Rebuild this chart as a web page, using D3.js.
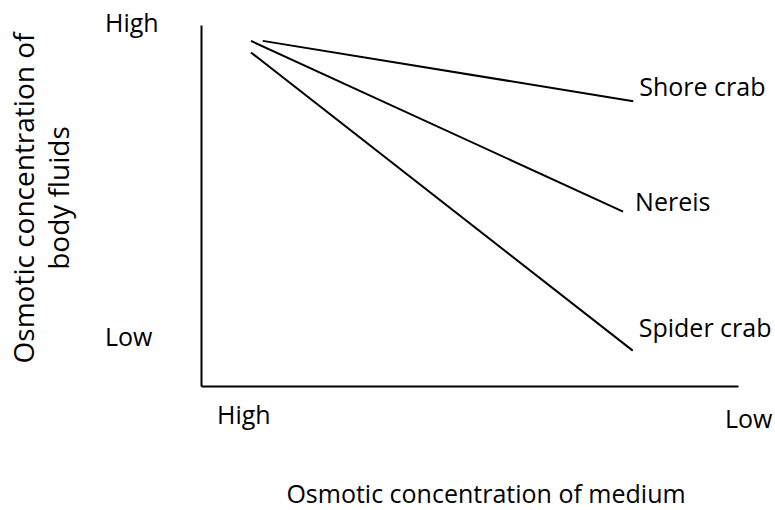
<!DOCTYPE html>
<html>
<head>
<meta charset="utf-8">
<script src="https://cdn.jsdelivr.net/npm/d3@7"></script>
<style>
  html, body { margin: 0; padding: 0; background: #fff; }
  svg text { font-family: "Open Sans", "Lato", sans-serif; fill: #000; }
</style>
</head>
<body>
<svg id="chart" width="775" height="510"></svg>
<script>
// Series: start/end points of each line (relative units, 0 = low, 100 = high position on axis)
const seriesNames = ["Shore crab", "Nereis", "Spider crab"];
const seriesX = [[11.5, 80.5], [9.3, 78.6], [9.3, 80.4]];
const seriesY = [[95.6, 78.9], [95.6, 48.3], [92.4, 9.8]];
const yTickLabels = ["High", "Low"];
const xTickLabels = ["High", "Low"];
const xTitle = "Osmotic concentration of medium";
const yTitleLines = ["Osmotic concentration of", "body fluids"];

const svg = d3.select("#chart");
const x = d3.scaleLinear().domain([0, 100]).range([201, 738]);
const y = d3.scaleLinear().domain([0, 100]).range([386, 25]);

// Axes (plain lines, no ticks)
const xAxis = d3.axisBottom(x).tickValues([]).tickSizeOuter(0);
const yAxis = d3.axisLeft(y).tickValues([]).tickSizeOuter(0);
svg.append("g").attr("transform", `translate(0,${y(0)})`).call(xAxis)
  .select(".domain").attr("stroke", "#000").attr("stroke-width", 2);
svg.append("g").attr("transform", `translate(${x(0)},0)`).call(yAxis)
  .select(".domain").attr("stroke", "#000").attr("stroke-width", 2);

// Lines
const line = d3.line().x(d => x(d[0])).y(d => y(d[1]));
const data = seriesNames.map((n, i) => ({
  name: n,
  pts: seriesX[i].map((xv, j) => [xv, seriesY[i][j]])
}));
svg.selectAll("path.series").data(data).join("path")
  .attr("class", "series")
  .attr("d", d => line(d.pts))
  .attr("fill", "none")
  .attr("stroke", "#000")
  .attr("stroke-width", 2);

// Series labels (layout offsets from each line's end, in pixels)
const labelDx = [6, 12, 6];
const labelDy = [-5, -1, -14];
svg.selectAll("text.lbl").data(data).join("text")
  .attr("class", "lbl")
  .attr("x", (d, i) => x(d.pts[1][0]) + labelDx[i])
  .attr("y", (d, i) => y(d.pts[1][1]) + labelDy[i])
  .attr("font-size", 25)
  .text(d => d.name);

// Y "tick" labels
svg.append("text").attr("x", 105).attr("y", 32).attr("font-size", 25).text(yTickLabels[0]);
svg.append("text").attr("x", 105).attr("y", 346).attr("font-size", 25).text(yTickLabels[1]);

// X "tick" labels
svg.append("text").attr("x", 217).attr("y", 424).attr("font-size", 25).text(xTickLabels[0]);
svg.append("text").attr("x", 725).attr("y", 428).attr("font-size", 25).text(xTickLabels[1]);

// X title
svg.append("text").attr("x", 486).attr("y", 503).attr("text-anchor", "middle")
  .attr("font-size", 25).text(xTitle);

// Y title (rotated, two lines)
const yt = svg.append("text").attr("transform", "translate(34,198) rotate(-90)")
  .attr("text-anchor", "middle").attr("font-size", 28);
yt.append("tspan").attr("x", 0).attr("y", 0).text(yTitleLines[0]);
yt.append("tspan").attr("x", 0).attr("y", 35).text(yTitleLines[1]);
</script>
</body>
</html>
